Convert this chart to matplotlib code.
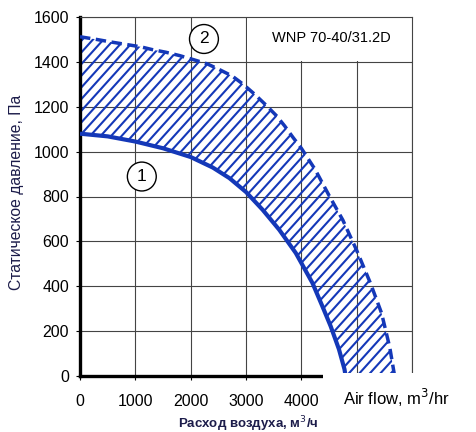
import matplotlib
matplotlib.use('Agg')
import numpy as np
import matplotlib.pyplot as plt
from matplotlib.patches import Rectangle
from matplotlib.collections import LineCollection

plt.rcParams['font.family'] = ['Liberation Sans', 'DejaVu Sans']

# curve 1 (solid, lower boundary)
flow1 = [0, 500, 1000, 1500, 2000, 2400, 2700, 3000, 3300, 3600, 3900, 4200, 4380, 4530, 4680, 4780, 4800]
p1 = [1080, 1068, 1045, 1015, 976, 929, 882, 820, 741, 652, 548, 415, 311, 222, 119, 30, 0]
# curve 2 (dashed, upper boundary)
flow2 = [0, 300, 550, 850, 1100, 1300, 1550, 1800, 2050, 2300, 2500, 2750, 2950, 3150, 3350,
         3550, 3700, 3850, 4000, 4250, 4500, 4750, 5000, 5250, 5450, 5600, 5680]
p2 = [1512, 1500, 1489, 1477, 1467, 1455, 1443, 1428, 1410, 1391, 1368, 1337, 1300, 1257, 1210,
      1160, 1114, 1063, 1015, 920, 805, 695, 560, 413, 280, 125, 8]

xticks = [0, 1000, 2000, 3000, 4000, 5000, 6000]
xticklabels = ['0', '1000', '2000', '3000', '4000', '', '']
yticks = [0, 200, 400, 600, 800, 1000, 1200, 1400, 1600]

blue = '#1438b8'
navy = '#1c1c4a'

fig = plt.figure(figsize=(4.76, 4.32), dpi=100)
ax = fig.add_axes([80/476, 1-376/432, 332/476, 359/432])

ax.set_xlim(0, 6000)
ax.set_ylim(0, 1600)
ax.set_xticks(xticks)
ax.set_xticklabels(xticklabels)
ax.set_yticks(yticks)
ax.set_axisbelow(True)
ax.grid(True, color='#444444', linewidth=0.8)
ax.tick_params(direction='out', length=3, width=0.8, labelsize=11.5, colors='black')
ax.tick_params(axis='x', pad=10)
ax.tick_params(axis='y', pad=5)

for s in ['left', 'bottom']:
    ax.spines[s].set_linewidth(2.4)
for s in ['right', 'top']:
    ax.spines[s].set_linewidth(0.8)
    ax.spines[s].set_color('#444444')

# blank cell behind the model name
ax.add_patch(Rectangle((3020, 1405), 2975, 190, facecolor='white', edgecolor='none', zorder=1))

# band between the curves, hatched by hand with clipped lines
band = ax.fill(list(flow2) + list(flow1[::-1]), list(p2) + list(p1[::-1]),
               facecolor='none', edgecolor='none', linewidth=0, zorder=2)[0]
px_per_x = 332 / 6000
px_per_y = 359 / 1600
slope = np.tan(np.radians(48)) * px_per_x / px_per_y
step = 10.5 / px_per_x
segs = []
for x0 in np.arange(-6000, 6000, step):
    segs.append([(x0, 0), (x0 + 1600 / slope, 1600)])
hatch = LineCollection(segs, colors=blue, linewidths=1.5, zorder=2)
ax.add_collection(hatch)
hatch.set_clip_path(band)

ax.plot(flow1, p1, color=blue, linewidth=3, solid_capstyle='butt', zorder=3)
ax.plot(flow2, p2, color=blue, linewidth=2.5, linestyle=(0, (3, 1.6)), zorder=3)

circ = dict(boxstyle='circle,pad=0.4', facecolor='white', edgecolor='black', linewidth=1)
ax.text(1117, 889, '1', fontsize=12.5, ha='center', va='center', bbox=circ, zorder=4)
ax.text(2240, 1502, '2', fontsize=12.5, ha='center', va='center', bbox=circ, zorder=4)
ax.text(4540, 1507, 'WNP 70-40/31.2D', fontsize=10.5, ha='center', va='center', zorder=4)

fig.text(17/476, 1-192/432, 'Статическое давление, Па', rotation=90,
         ha='center', va='center', fontsize=11.3, color=navy)
fig.text(248/476, 1-424/432, 'Расход воздуха, м$^3$/ч', ha='center', va='center',
         fontsize=9.5, fontweight='bold', color=navy)

# overlay box with English caption
fig.patches.append(Rectangle((323/476, 0), 1, 59/432, transform=fig.transFigure,
                             facecolor='white', edgecolor='none', zorder=5))
fig.text(343/476, 1-398/432, 'Air flow, m$^3$/hr', ha='left', va='center',
         fontsize=12, color='black', zorder=6)

fig.savefig('out.png', dpi=100)
